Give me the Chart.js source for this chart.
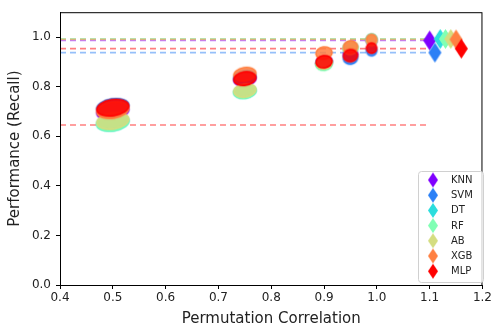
<!DOCTYPE html>
<html>
<head>
<meta charset="utf-8">
<script src="https://cdn.jsdelivr.net/npm/chart.js@4"></script>
<style>
  body { margin: 0; background: #fff; }
  canvas { display: block; }
</style>
</head>
<body>
<canvas id="chart" width="494" height="332"></canvas>
<script>
const models = ["KNN", "SVM", "DT", "RF", "AB", "XGB", "MLP"];
const colors = ["#8000ff", "#2b80f6", "#2bdddd", "#80ffb4", "#d4dd80", "#ff8042", "#ff0000"];

// permutation correlation levels
const corrLevels = [0.5, 0.75, 0.9, 0.95, 0.99];

// recall per model at each level
const recallKNN = [0.7, 0.83, 0.9, 0.93, 0.985];
const recallSVM = [0.718, 0.838, 0.895, 0.915, 0.945];
const recallDT = [0.655, 0.78, 0.895, 0.955, 0.99];
const recallRF = [0.655, 0.78, 0.89, 0.955, 0.99];
const recallAB = [0.662, 0.785, 0.895, 0.955, 0.985];
const recallXGB = [0.705, 0.85, 0.935, 0.96, 0.99];
const recallMLP = [0.715, 0.832, 0.9, 0.925, 0.955];
const recalls = [recallKNN, recallSVM, recallDT, recallRF, recallAB, recallXGB, recallMLP];

// original (unpermuted) recall, shown as diamonds and dashed lines
const diamondX = [1.1, 1.11, 1.12, 1.13, 1.14, 1.15, 1.16];
const baseRecall = [0.986, 0.937, 0.992, 0.992, 0.992, 0.99, 0.953];
const extraLineRecall = 0.645;
const lineX = [0.4, 1.1];

const xTicks = [0.4, 0.5, 0.6, 0.7, 0.8, 0.9, 1.0, 1.1, 1.2];
const yTicks = [0.0, 0.2, 0.4, 0.6, 0.8, 1.0];

function rgba(hex, a) {
    const n = parseInt(hex.slice(1), 16);
    return "rgba(" + (n >> 16) + "," + ((n >> 8) & 255) + "," + (n & 255) + "," + a + ")";
}

// blob size per correlation level (the jittered cloud of runs)
const blobRx = [16, 11, 8, 7, 5];
const blobRy = [8, 6.5, 6, 6, 5];

function makeBlob(color, rx, ry) {
    const c = document.createElement("canvas");
    c.width = rx * 2 + 8;
    c.height = ry * 2 + 8;
    const g = c.getContext("2d");
    g.translate(c.width / 2, c.height / 2);
    g.rotate(-0.15);
    g.beginPath();
    g.ellipse(0, 0, rx + 1.5, ry + 1.5, 0, 0, Math.PI * 2);
    g.fillStyle = rgba(color, 0.25);
    g.fill();
    g.beginPath();
    g.ellipse(0, 0, rx, ry, 0, 0, Math.PI * 2);
    g.fillStyle = rgba(color, 0.8);
    g.fill();
    g.lineWidth = 1.5;
    g.strokeStyle = rgba(color, 1);
    g.stroke();
    return c;
}

function makeDiamond(color, w, h) {
    const c = document.createElement("canvas");
    c.width = w + 2;
    c.height = h + 2;
    const g = c.getContext("2d");
    const cx = c.width / 2, cy = c.height / 2;
    g.beginPath();
    g.moveTo(cx, cy - h / 2);
    g.lineTo(cx + w / 2, cy);
    g.lineTo(cx, cy + h / 2);
    g.lineTo(cx - w / 2, cy);
    g.closePath();
    g.fillStyle = color;
    g.fill();
    return c;
}

const blobs = colors.map((col) => corrLevels.map((_, i) => makeBlob(col, blobRx[i], blobRy[i])));
const bigDiamonds = colors.map((col) => makeDiamond(col, 13, 20));
const smallDiamonds = colors.map((col) => makeDiamond(col, 10, 15));

const datasets = [];

// scatter clouds, MLP drawn on top
models.forEach((m, k) => {
    datasets.push({
        type: "scatter",
        label: m,
        data: corrLevels.map((x, i) => ({ x: x, y: recalls[k][i] })),
        pointStyle: (ctx) => blobs[k][ctx.dataIndex],
        backgroundColor: colors[k],
        order: 10 - k,
    });
});

// dashed baselines
models.forEach((m, k) => {
    datasets.push({
        type: "line",
        label: m + " base",
        data: lineX.map((x) => ({ x: x, y: baseRecall[k] })),
        borderColor: rgba(colors[k], 0.5),
        borderWidth: 1.6,
        borderDash: [6, 4],
        pointRadius: 0,
        order: 30 - k,
    });
});
datasets.push({
    type: "line",
    label: "MLP low",
    data: lineX.map((x) => ({ x: x, y: extraLineRecall })),
    borderColor: rgba(colors[6], 0.5),
    borderWidth: 1.6,
    borderDash: [6, 4],
    pointRadius: 0,
    order: 20,
});

// diamonds
datasets.push({
    type: "scatter",
    label: "diamonds",
    data: diamondX.map((x, k) => ({ x: x, y: baseRecall[k] })),
    pointStyle: (ctx) => bigDiamonds[ctx.dataIndex],
    order: 0,
});

const framePlugin = {
    id: "frame",
    afterDraw(chart) {
        const a = chart.chartArea;
        const g = chart.ctx;
        g.save();
        g.strokeStyle = "#000";
        g.lineWidth = 1;
        g.strokeRect(a.left + 0.5, a.top + 0.5, a.right - a.left - 1, a.bottom - a.top);

        // legend box, lower right
        const bx = 418, by = 171, bw = 65, bh = 111;
        g.fillStyle = "rgba(255,255,255,0.8)";
        g.strokeStyle = "#d0d0d0";
        g.beginPath();
        g.roundRect(bx + 0.5, by + 0.5, bw, bh, 3);
        g.fill();
        g.stroke();
        g.font = "10px 'DejaVu Sans'";
        g.textBaseline = "middle";
        models.forEach((m, k) => {
            const y = 180 + k * 15.2;
            const d = smallDiamonds[k];
            g.drawImage(d, 433 - d.width / 2, y - d.height / 2);
            g.fillStyle = "#222";
            g.fillText(m, 451, y + 0.5);
        });
        g.restore();
    },
};

new Chart(document.getElementById("chart"), {
    data: { datasets: datasets },
    options: {
        responsive: false,
        animation: false,
        layout: { padding: { top: 9, right: 10, left: 0, bottom: 0 } },
        plugins: { legend: { display: false }, tooltip: { enabled: false } },
        scales: {
            x: {
                type: "linear",
                min: 0.4,
                max: 1.2,
                afterBuildTicks: (s) => { s.ticks = xTicks.map((v) => ({ value: v })); },
                afterFit: (s) => { s.height = 47; },
                ticks: {
                    callback: (v) => v.toFixed(1),
                    color: "#222",
                    font: { family: "DejaVu Sans", size: 12 },
                    padding: 2,
                    maxRotation: 0,
                },
                grid: { drawOnChartArea: false, drawTicks: true, tickLength: 4, color: "#000" },
                border: { color: "#000" },
                title: {
                    display: true,
                    text: "Permutation Correlation",
                    color: "#222",
                    font: { family: "DejaVu Sans", size: 15 },
                    padding: { top: 1 },
                },
            },
            y: {
                type: "linear",
                min: 0,
                max: 1.1,
                afterBuildTicks: (s) => { s.ticks = yTicks.map((v) => ({ value: v })); },
                afterFit: (s) => { s.width = 60; },
                ticks: {
                    callback: (v) => v.toFixed(1),
                    color: "#222",
                    font: { family: "DejaVu Sans", size: 12 },
                    padding: 5,
                },
                grid: { drawOnChartArea: false, drawTicks: true, tickLength: 4, color: "#000" },
                border: { color: "#000" },
                title: {
                    display: true,
                    text: "Performance (Recall)",
                    color: "#222",
                    font: { family: "DejaVu Sans", size: 15 },
                    padding: { top: 6, bottom: 0 },
                },
            },
        },
    },
    plugins: [framePlugin],
});
</script>
</body>
</html>
